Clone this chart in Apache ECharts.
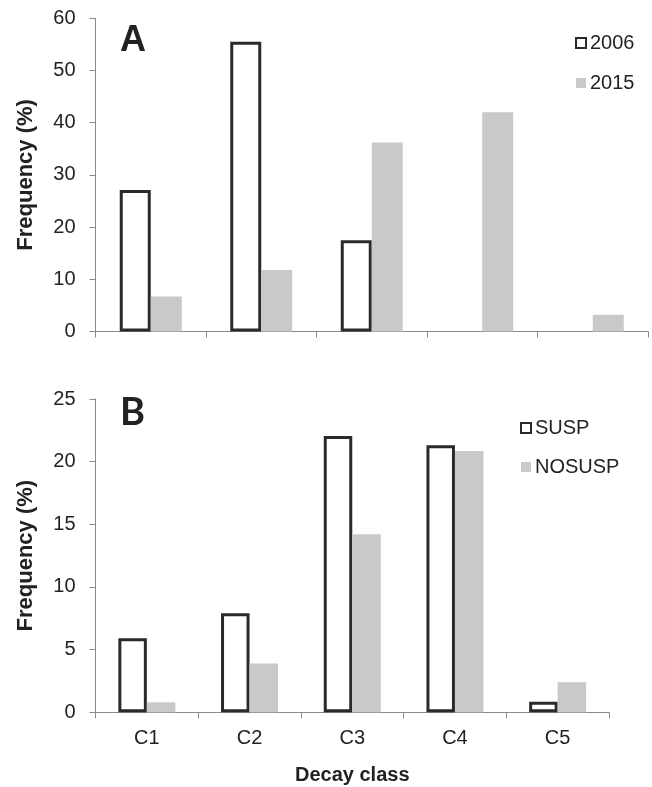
<!DOCTYPE html>
<html>
<head>
<meta charset="utf-8">
<script src="https://cdn.jsdelivr.net/npm/echarts@6/dist/echarts.min.js"></script>
<style>html,body{margin:0;padding:0;background:#fff}#c{width:652px;height:787px}</style>
</head>
<body>
<div id="c"></div>
<script>
const categories = ['C1', 'C2', 'C3', 'C4', 'C5'];
const seriesA2006 = [27.1, 55.5, 17.5, null, null];
const seriesA2015 = [6.7, 11.8, 36.2, 42.0, 3.2];
const seriesBSUSP = [5.9, 7.9, 22.05, 21.3, 0.85];
const seriesBNOSUSP = [0.8, 3.9, 14.2, 20.85, 2.4];
const yTicksA = { min: 0, max: 60, interval: 10 };
const yTicksB = { min: 0, max: 25, interval: 5 };

const textColor = '#222';
const axisColor = '#8a8a8a';
const outlineStyle = { color: '#fff', borderColor: '#2a2a2a', borderWidth: 3 };
const grayStyle = { color: '#c8c9cb' };
const font = '"Liberation Sans", Arial, sans-serif';

function xAxisDef(gridIndex, showLabels) {
  return {
    type: 'category', gridIndex, data: categories,
    axisLine: { lineStyle: { color: axisColor, width: 1 } },
    axisTick: { show: true, length: 6, lineStyle: { color: axisColor } },
    axisLabel: { show: showLabels, color: textColor, fontSize: 20, fontFamily: font, margin: 16 },
    name: showLabels ? 'Decay class' : '',
    nameLocation: 'middle', nameGap: 53,
    nameTextStyle: { color: textColor, fontSize: 20, fontWeight: 'bold', fontFamily: font }
  };
}
function yAxisDef(gridIndex, t) {
  return {
    type: 'value', gridIndex, min: t.min, max: t.max, interval: t.interval,
    axisLine: { show: true, lineStyle: { color: axisColor, width: 1 } },
    axisTick: { show: true, length: 6, lineStyle: { color: axisColor } },
    splitLine: { show: false },
    axisLabel: { color: textColor, fontSize: 20, fontFamily: font, margin: 20 },
    name: 'Frequency (%)', nameLocation: 'middle', nameGap: 59, nameRotate: 90,
    nameTextStyle: { color: textColor, fontSize: 22, fontWeight: 'bold', fontFamily: font }
  };
}

const chart = echarts.init(document.getElementById('c'), null, { renderer: 'canvas' });
chart.setOption({
  animation: false,
  backgroundColor: '#fff',
  grid: [
    { left: 95.5, width: 552.5, top: 18.3, height: 313.2 },
    { left: 95.5, width: 513.5, top: 399, height: 313.3 }
  ],
  xAxis: [xAxisDef(0, false), xAxisDef(1, true)],
  yAxis: [yAxisDef(0, yTicksA), yAxisDef(1, yTicksB)],
  legend: [
    { orient: 'vertical', left: 570, top: 28, itemWidth: 10, itemHeight: 10, itemGap: 20,
      icon: 'rect', data: ['2006', '2015'],
      textStyle: { color: textColor, fontSize: 20, fontFamily: font, padding: [0, 0, 0, -1] } },
    { orient: 'vertical', left: 515, top: 413, itemWidth: 10, itemHeight: 10, itemGap: 19,
      icon: 'rect', data: ['SUSP', 'NOSUSP'],
      textStyle: { color: textColor, fontSize: 20, fontFamily: font, padding: [0, 0, 0, -1] } }
  ],
  series: [
    { name: '2006', type: 'bar', xAxisIndex: 0, yAxisIndex: 0, data: seriesA2006,
      barWidth: 31, barGap: '0%', itemStyle: outlineStyle },
    { name: '2015', type: 'bar', xAxisIndex: 0, yAxisIndex: 0, data: seriesA2015,
      barWidth: 31, barGap: '0%', itemStyle: grayStyle },
    { name: 'SUSP', type: 'bar', xAxisIndex: 1, yAxisIndex: 1, data: seriesBSUSP,
      barWidth: 28.5, barGap: '0%', itemStyle: outlineStyle },
    { name: 'NOSUSP', type: 'bar', xAxisIndex: 1, yAxisIndex: 1, data: seriesBNOSUSP,
      barWidth: 28.5, barGap: '0%', itemStyle: grayStyle }
  ],
  graphic: [
    { type: 'text', left: 120, top: 23, style: { text: 'A', fontSize: 36, fontWeight: 'bold', fontFamily: font, fill: textColor } },
    { type: 'text', left: 120, top: 394, style: { text: 'B', fontSize: 38, fontWeight: 'bold', fontFamily: 'Lato, sans-serif', fill: textColor } }
  ]
});
</script>
</body>
</html>
